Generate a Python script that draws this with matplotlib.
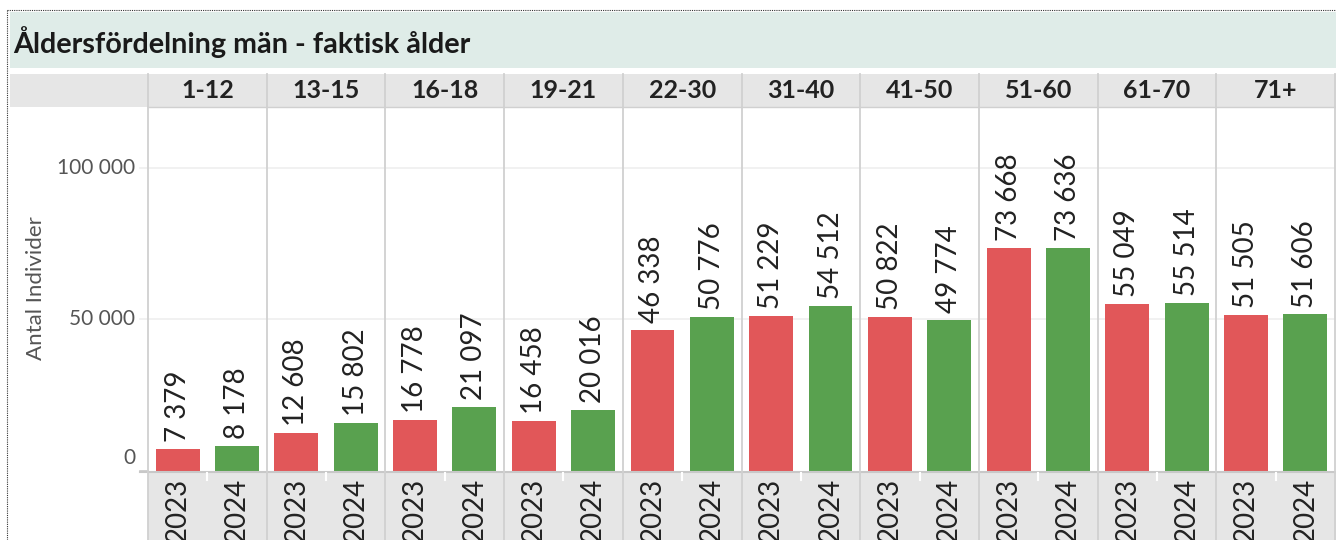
import matplotlib
matplotlib.use("Agg")
import matplotlib.pyplot as plt
from matplotlib.patches import Rectangle
from matplotlib.lines import Line2D

age_groups = ["1-12", "13-15", "16-18", "19-21", "22-30", "31-40", "41-50", "51-60", "61-70", "71+"]
years = ["2023", "2024"]
values_2023 = [7379, 12608, 16778, 16458, 46338, 51229, 50822, 73668, 55049, 51505]
values_2024 = [8178, 15802, 21097, 20016, 50776, 54512, 49774, 73636, 55514, 51606]
title = "Åldersfördelning män - faktisk ålder"
y_label = "Antal Individer"
y_ticks = [0, 50000, 100000]

RED = "#e15759"
GREEN = "#59a14f"
FONT = ["Lato", "DejaVu Sans"]
plt.rcParams["font.family"] = FONT

W, H = 1336, 540
fig = plt.figure(figsize=(W / 100, H / 100), dpi=100)

def fx(x):
    return x / W

def fy(y):
    return 1 - y / H

def rect(x0, y0, x1, y1, color, **kw):
    fig.patches.append(Rectangle((fx(x0), fy(y1)), fx(x1) - fx(x0), fy(y0) - fy(y1),
                                 transform=fig.transFigure, facecolor=color,
                                 edgecolor="none", **kw))

def line(x0, y0, x1, y1, color, lw=1, **kw):
    fig.lines.append(Line2D([fx(x0), fx(x1)], [fy(y0), fy(y1)], transform=fig.transFigure,
                            color=color, lw=lw, **kw))

# title band and header band
rect(10, 12, W, 68, "#dfece8")
rect(10, 74, W, 107, "#e6e6e6")
rect(148, 472, W, H, "#e6e6e6")
# dotted border
line(7, 10, W, 10, "#333333", lw=0.8, ls=(0, (1, 1)))
line(7, 10, 7, H, "#333333", lw=0.8, ls=(0, (1, 1)))

fig.text(fx(13), fy(42), title, fontsize=20.7, fontweight="bold", color="#1a1a1a",
         ha="left", va="center")

ax_left, ax_right, ax_top, ax_bot = 148, 1335, 107, 471
ax = fig.add_axes([fx(ax_left), fy(ax_bot), fx(ax_right) - fx(ax_left), fy(ax_top) - fy(ax_bot)])
ax.set_facecolor("white")
n = len(age_groups)
ax.set_xlim(-0.5, 2 * n - 0.5)
ax.set_ylim(0, 120000)
for s in ax.spines.values():
    s.set_visible(False)

x23 = [2 * i for i in range(n)]
x24 = [2 * i + 1 for i in range(n)]
bw = 0.74
ax.bar(x23, values_2023, width=bw, color=RED, zorder=3)
ax.bar(x24, values_2024, width=bw, color=GREEN, zorder=3)

def fmt(v):
    return f"{v:,}".replace(",", " ")

for xs, vs in ((x23, values_2023), (x24, values_2024)):
    for x, v in zip(xs, vs):
        ax.annotate(fmt(v), (x, v), xytext=(0, 5), textcoords="offset points",
                    rotation=90, ha="center", va="bottom", fontsize=20, color="#222222")

# gridlines
for t in y_ticks[1:]:
    ax.axhline(t, color="#efefef", lw=1.2, zorder=1)
ax.set_yticks([])
ax.set_xticks([])

# y tick labels and tick lines extending left
for t in y_ticks:
    ypx = ax_bot - (ax_bot - ax_top) * t / 120000
    lab_y = ypx if t else ypx - 13
    fig.text(fx(135), fy(lab_y), fmt(t), fontsize=15, color="#555555", ha="right", va="center")
    line(140, ypx, 148, ypx, "#efefef" if t else "#c8c8c8", lw=1.2)
line(140, ax_bot + 0.5, W, ax_bot + 0.5, "#c8c8c8", lw=1.5)

fig.text(fx(36), fy(288), y_label, fontsize=16, color="#555555", rotation=90,
         ha="center", va="center")

# panels: separators, headers, year labels
pw = (ax_right - ax_left) / n
for i, g in enumerate(age_groups):
    x0 = ax_left + i * pw
    line(x0, 74, x0, H, "#d0d0d0", lw=1.3)
    fig.text(fx(x0 + pw / 2), fy(91), g, fontsize=18, fontweight="bold", color="#222222",
             ha="center", va="center")
    # white mid tick
    line(x0 + pw / 2, 473, x0 + pw / 2, 480, "white", lw=1.5)
    for j, yr in enumerate(years):
        cx = x0 + pw / 4 + j * pw / 2
        fig.text(fx(cx), fy(478), yr, fontsize=20, color="#222222", rotation=90,
                 ha="center", va="top")
line(ax_right, 74, ax_right, H, "#d0d0d0", lw=1.3)
line(ax_left, 107, W, 107, "#d0d0d0", lw=1.0)

fig.savefig("out.png", dpi=100)
